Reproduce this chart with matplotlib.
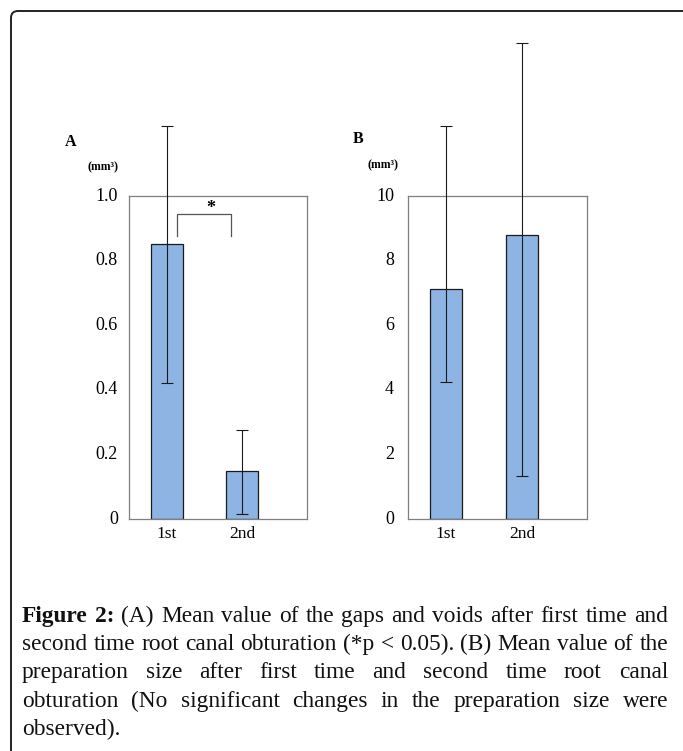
import matplotlib
matplotlib.use("Agg")
import matplotlib.pyplot as plt
from matplotlib.patches import FancyBboxPatch
from matplotlib.transforms import IdentityTransform

plt.rcParams['font.family'] = ['Liberation Serif', 'DejaVu Serif']

categorias = ['1st', '2nd']
# panel A: gaps and voids (mm3)
media_a = [0.851, 0.149]
err_a_bajo = [0.430, 0.134]
err_a_alto = [0.366, 0.127]
# panel B: preparation size (mm3)
media_b = [7.12, 8.79]
err_b_bajo = [2.88, 7.46]
err_b_alto = [5.05, 5.95]

ticks_a = [0, 0.2, 0.4, 0.6, 0.8, 1.0]
etiquetas_a = ['0', '0.2', '0.4', '0.6', '0.8', '1.0']
ticks_b = [0, 2, 4, 6, 8, 10]

color_barra = '#8eb4e3'
W, H = 683, 751
fig = plt.figure(figsize=(W / 100, H / 100), dpi=100)

# outer frame
marco = FancyBboxPatch((11, -20), 720, H - 11 + 20, boxstyle="round,pad=0,rounding_size=7",
                       transform=IdentityTransform(), fill=False, edgecolor='#222222', lw=1.4)
fig.patches.append(marco)


def panel(rect, medias, bajo, alto, ticks, etiquetas, ymax, xlim, letra, letra_pos, mm_pos, pad):
    ax = fig.add_axes(rect)
    pos = [0, 1]
    ax.bar(pos, medias, width=0.427, color=color_barra, edgecolor='#1a1a1a', linewidth=0.9, zorder=2)
    ax.errorbar(pos, medias, yerr=[bajo, alto], fmt='none', ecolor='#1a1a1a', elinewidth=0.8,
                capsize=4.3, capthick=0.8, zorder=3, clip_on=False)
    ax.set_xlim(*xlim)
    ax.set_ylim(0, ymax)
    ax.set_xticks(pos)
    ax.set_xticklabels(categorias, fontsize=12.5)
    ax.set_yticks(ticks)
    ax.set_yticklabels(etiquetas, fontsize=13)
    ax.tick_params(length=0)
    ax.tick_params(axis='y', pad=pad)
    ax.tick_params(axis='x', pad=5)
    for s in ax.spines.values():
        s.set_color('#7f7f7f')
        s.set_linewidth(0.9)
    fig.text(letra_pos[0] / W, 1 - letra_pos[1] / H, letra, fontsize=11.5, fontweight='bold',
             ha='center', va='center')
    fig.text(mm_pos[0] / W, 1 - mm_pos[1] / H, '(mm³)', fontsize=8.5, fontweight='bold',
             ha='center', va='center')
    for lab in ax.get_yticklabels():
        lab.set_va('center')
    return ax


ax_a = panel([129 / W, 1 - 519 / H, 178 / W, 323 / H], media_a, err_a_bajo, err_a_alto,
             ticks_a, etiquetas_a, 1.0, (-0.507, 1.867), 'A', (71, 142), (103, 167), 8)
ax_b = panel([408 / W, 1 - 519 / H, 179 / W, 323 / H], media_b, err_b_bajo, err_b_alto,
             ticks_b, [str(t) for t in ticks_b], 10, (-0.5, 1.855), 'B', (358, 139), (383, 165), 10)

# significance bracket in panel A
ax_a.plot([0.133, 0.133, 0.853, 0.853], [0.876, 0.944, 0.944, 0.876], color='#555555', lw=0.9, zorder=4)
ax_a.text(0.587, 0.962, '*', fontsize=13, fontweight='bold', ha='center', va='center')

# caption, justified like the journal layout
lineas = [
    "Figure 2: (A) Mean value of the gaps and voids after first time and",
    "second time root canal obturation (*p < 0.05). (B) Mean value of the",
    "preparation size after first time and second time root canal",
    "obturation (No significant changes in the preparation size were",
    "observed).",
]
x0, x1 = 22, 668
base0, paso = 622, 28.2
renderer = fig.canvas.get_renderer()


def medir(palabras, linea_idx, tam):
    objs = []
    for j, p in enumerate(palabras):
        negrita = (linea_idx == 0 and j < 2)
        objs.append(fig.text(0, 0, p, fontsize=tam, fontweight='bold' if negrita else 'normal',
                             ha='left', va='baseline', color='#111111'))
    return objs, [t.get_window_extent(renderer).width for t in objs]


# pick the size so the first line sets with ordinary word spacing
p0 = lineas[0].split(' ')
tmp, an = medir(p0, 0, 10)
for t in tmp:
    t.remove()
hueco_nat = 7
tam = 10 * (x1 - x0 - hueco_nat * (len(p0) - 1)) / sum(an)

for i, linea in enumerate(lineas):
    palabras = linea.split(' ')
    y = 1 - (base0 + i * paso) / H
    objetos, anchos = medir(palabras, i, tam)
    if i < len(lineas) - 1:
        hueco = (x1 - x0 - sum(anchos)) / (len(palabras) - 1)
    else:
        hueco = hueco_nat
    x = x0
    for t, w in zip(objetos, anchos):
        t.set_x(x / W)
        t.set_y(y)
        x += w + hueco

fig.savefig('out.png', dpi=100)
